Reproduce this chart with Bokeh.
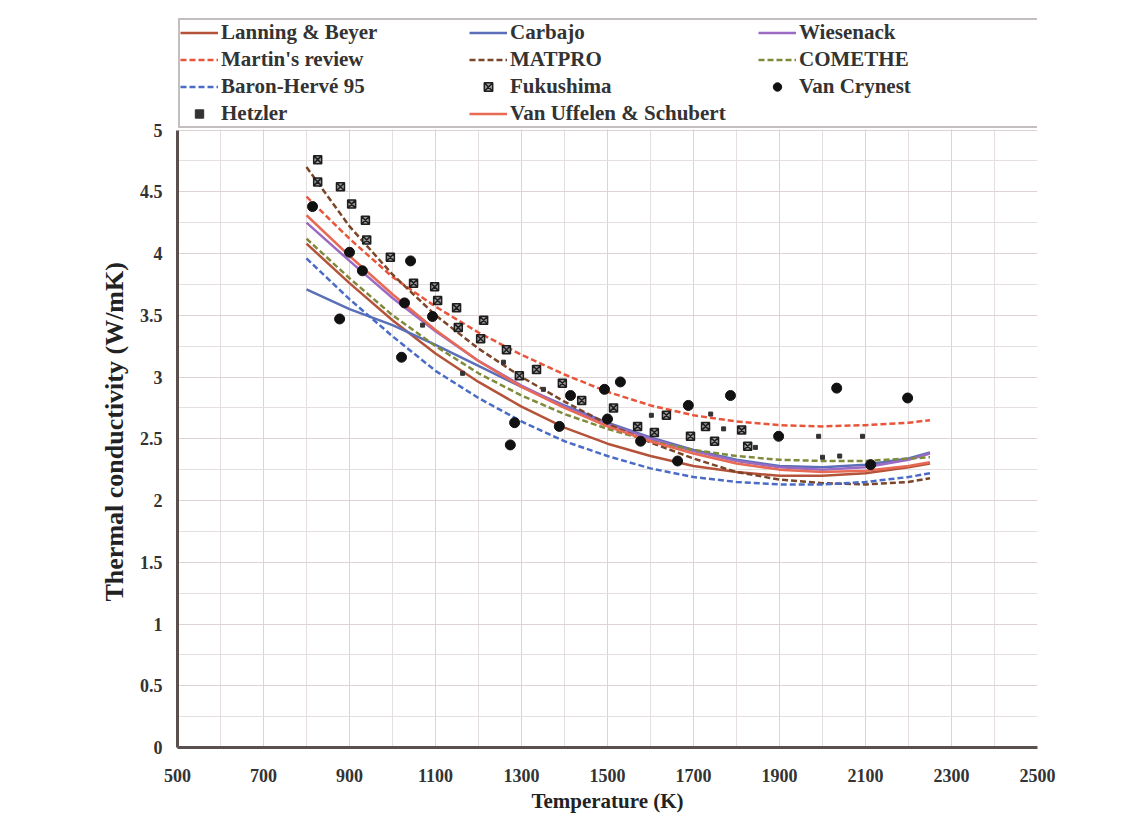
from bokeh.plotting import figure
from bokeh.models import Legend, LegendItem, FixedTicker, Range1d, BoxAnnotation, Title
from bokeh.embed import file_html
from bokeh.resources import INLINE

# ---- data ----
T_curve = [800, 900, 1000, 1100, 1200, 1300, 1400, 1500, 1600, 1700, 1800, 1900, 2000, 2100, 2200, 2250]

lanning_beyer = [4.08, 3.76, 3.46, 3.19, 2.96, 2.76, 2.59, 2.46, 2.36, 2.28, 2.23, 2.20, 2.20, 2.22, 2.27, 2.30]
carbajo       = [3.71, 3.55, 3.42, 3.26, 3.09, 2.92, 2.77, 2.63, 2.51, 2.41, 2.33, 2.28, 2.27, 2.29, 2.34, 2.39]
wiesenack     = [4.25, 3.94, 3.64, 3.37, 3.13, 2.93, 2.76, 2.62, 2.50, 2.40, 2.32, 2.27, 2.25, 2.27, 2.33, 2.38]
martin        = [4.46, 4.12, 3.81, 3.57, 3.36, 3.18, 3.02, 2.88, 2.77, 2.69, 2.64, 2.61, 2.60, 2.61, 2.63, 2.65]
matpro        = [4.70, 4.22, 3.83, 3.50, 3.23, 3.00, 2.80, 2.62, 2.47, 2.34, 2.23, 2.17, 2.14, 2.13, 2.15, 2.18]
comethe       = [4.12, 3.80, 3.50, 3.25, 3.03, 2.85, 2.70, 2.58, 2.48, 2.41, 2.36, 2.33, 2.32, 2.32, 2.34, 2.35]
baron_herve   = [3.96, 3.63, 3.33, 3.05, 2.83, 2.64, 2.48, 2.36, 2.26, 2.19, 2.15, 2.13, 2.13, 2.15, 2.19, 2.22]
van_uffelen   = [4.31, 3.98, 3.67, 3.38, 3.13, 2.92, 2.75, 2.60, 2.48, 2.38, 2.30, 2.25, 2.23, 2.24, 2.28, 2.31]

fuku_T = [826, 826, 879, 905, 937, 940, 995, 1049, 1098, 1105, 1149, 1153, 1212, 1205, 1265, 1295,
          1335, 1395, 1440, 1514, 1570, 1609, 1637, 1693, 1728, 1749, 1812, 1826]
fuku_k = [4.76, 4.58, 4.54, 4.40, 4.27, 4.11, 3.97, 3.76, 3.73, 3.62, 3.56, 3.40, 3.46, 3.31, 3.22, 3.01,
          3.06, 2.95, 2.81, 2.75, 2.60, 2.55, 2.69, 2.52, 2.60, 2.48, 2.57, 2.44]

vc_T = [814, 877, 900, 930, 1028, 1021, 1042, 1093, 1284, 1274, 1388, 1414, 1493, 1530, 1500, 1577,
        1663, 1688, 1786, 1898, 2033, 2112, 2198]
vc_k = [4.38, 3.47, 4.01, 3.86, 3.60, 3.16, 3.94, 3.49, 2.63, 2.45, 2.60, 2.85, 2.90, 2.96, 2.66, 2.48,
        2.32, 2.77, 2.85, 2.52, 2.91, 2.29, 2.83]

hetz_T = [1070, 1163, 1258, 1351, 1602, 1740, 1770, 1844, 1991, 2000, 2040, 2093]
hetz_k = [3.42, 3.03, 3.12, 2.90, 2.69, 2.70, 2.58, 2.43, 2.52, 2.35, 2.36, 2.52]

x_ticks = [500, 700, 900, 1100, 1300, 1500, 1700, 1900, 2100, 2300, 2500]
x_minor = [600, 800, 1000, 1200, 1400, 1600, 1800, 2000, 2200, 2400]
y_ticks = [0, 0.5, 1, 1.5, 2, 2.5, 3, 3.5, 4, 4.5, 5]
y_minor = [0.25, 0.75, 1.25, 1.75, 2.25, 2.75, 3.25, 3.75, 4.25, 4.75]

# ---- figure ----
FONT = "Liberation Serif"
TXT = "#333333"

H = 815
FRAME_TOP, ZERO_PX, FIVE_PX = 8, 750, 130
y_top = 5 * (ZERO_PX - FRAME_TOP) / (ZERO_PX - FIVE_PX)   # extra room above 5 holds the legend

p = figure(width=1105, height=H, output_backend="svg", toolbar_location=None,
           x_range=Range1d(500, 2500), y_range=Range1d(0, y_top),
           min_border_left=177, min_border_right=68, min_border_bottom=H - ZERO_PX,
           min_border_top=FRAME_TOP,
           background_fill_color="white", border_fill_color="white")
p.outline_line_color = None

p.xaxis.ticker = FixedTicker(ticks=x_ticks, minor_ticks=x_minor)
p.yaxis.ticker = FixedTicker(ticks=y_ticks, minor_ticks=y_minor)
p.xgrid.ticker = p.xaxis.ticker
p.ygrid.ticker = p.yaxis.ticker
p.yaxis.bounds = (0, 5)

for g in (p.xgrid, p.ygrid):
    g.grid_line_color = "#ddd3d3"
    g.grid_line_width = 1
    g.minor_grid_line_color = "#e6dfdf"
    g.minor_grid_line_width = 1

# blank out the grid above the 5 W/mK line (legend area)
p.add_layout(BoxAnnotation(bottom=5.004, fill_color="white", fill_alpha=1.0,
                           line_color=None, level="underlay"))

for ax in (p.xaxis, p.yaxis):
    ax.axis_line_color = "#5b5050"
    ax.axis_line_width = 3
    ax.major_tick_line_color = None
    ax.minor_tick_line_color = None
    ax.major_tick_out = 0
    ax.major_tick_in = 0
    ax.minor_tick_out = 0
    ax.major_label_text_font = FONT
    ax.major_label_text_font_style = "bold"
    ax.major_label_text_font_size = "18px"
    ax.major_label_text_color = TXT
    ax.axis_label_text_font = FONT
    ax.axis_label_text_font_style = "bold"
    ax.axis_label_text_color = "#222222"

p.xaxis.major_label_standoff = 21
p.yaxis.major_label_standoff = 15
p.xaxis.axis_label = "Temperature (K)"
p.xaxis.axis_label_text_font_size = "21px"
p.xaxis.axis_label_standoff = 4

# y title anchored to the 0..5 part of the axis (frame also holds the legend)
ytitle = Title(text="Thermal conductivity (W/mK)", align="left", offset=146,
               text_font=FONT, text_font_size="26px", text_font_style="bold",
               text_color="#222222", standoff=16)
p.add_layout(ytitle, "left")

LW = 2.5
DASH = "6 3"
r_lan = p.line(T_curve, lanning_beyer, line_color="#b5533a", line_width=LW)
r_car = p.line(T_curve, carbajo, line_color="#5a6fb8", line_width=LW)
r_wie = p.line(T_curve, wiesenack, line_color="#9b6bc4", line_width=LW)
r_mar = p.line(T_curve, martin, line_color="#e8553a", line_width=LW, line_dash=DASH)
r_mat = p.line(T_curve, matpro, line_color="#7a4528", line_width=LW, line_dash=DASH)
r_com = p.line(T_curve, comethe, line_color="#7f8a3a", line_width=LW, line_dash=DASH)
r_bar = p.line(T_curve, baron_herve, line_color="#4a6cc7", line_width=LW, line_dash=DASH)
r_uff = p.line(T_curve, van_uffelen, line_color="#e86a55", line_width=LW)

r_fuk = p.scatter(fuku_T, fuku_k, marker="square_x", size=8, line_color="#1e1e1e",
                  fill_color="#9a9a9a", line_width=1.5)
r_vc = p.scatter(vc_T, vc_k, marker="circle", size=10, line_color="#111111", fill_color="#111111")
r_het = p.scatter(hetz_T, hetz_k, marker="square", size=4, line_color="#333333", fill_color="#333333")

items = [
    LegendItem(label="Lanning & Beyer", renderers=[r_lan]),
    LegendItem(label="Carbajo", renderers=[r_car]),
    LegendItem(label="Wiesenack", renderers=[r_wie]),
    LegendItem(label="Martin's review", renderers=[r_mar]),
    LegendItem(label="MATPRO", renderers=[r_mat]),
    LegendItem(label="COMETHE", renderers=[r_com]),
    LegendItem(label="Baron-Hervé 95", renderers=[r_bar]),
    LegendItem(label="Fukushima", renderers=[r_fuk]),
    LegendItem(label="Van Crynest", renderers=[r_vc]),
    LegendItem(label="Hetzler", renderers=[r_het]),
    LegendItem(label="Van Uffelen & Schubert", renderers=[r_uff]),
]
legend = Legend(items=items, orientation="horizontal", ncols=3,
                location=(1, ZERO_PX - 131),
                label_text_font=FONT, label_text_font_size="21px",
                label_text_font_style="bold", label_text_color=TXT,
                label_width=246, label_height=21, glyph_width=38, glyph_height=21,
                label_standoff=3, spacing=2, padding=0, margin=0,
                border_line_color="#8a7f7f", border_line_width=2,
                background_fill_color="white", background_fill_alpha=1.0)
p.add_layout(legend, "center")

open("out.html", "w").write(file_html(p, INLINE))
